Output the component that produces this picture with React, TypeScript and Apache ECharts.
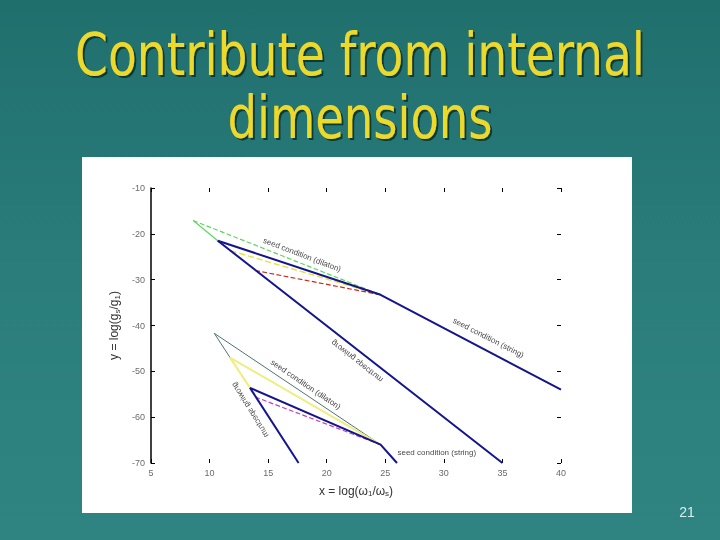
import React, { useEffect, useRef } from "react";
import * as echarts from "echarts";

// ---- data ----
const xMin = 5;
const xMax = 40;
const xStep = 5;
const yMin = -70;
const yMax = -10;
const yStep = 10;

// upper group (dilaton + string, earlier)
const upperGreenSolid = [[8.6, -17.1], [10.7, -21.5]];
const upperGreenDashed = [[8.6, -17.1], [24.6, -33.3]];
const upperBlueString = [[10.7, -21.5], [24.6, -33.3], [40, -54.0]];
const upperBlueGrowing = [[10.7, -21.5], [35, -70]];
const upperYellowDashed = [[11.8, -23.7], [24.6, -33.3]];
const upperRedDashed = [[13.9, -28.0], [24.6, -33.3]];

// lower group
const lowerGrayA = [[10.4, -41.7], [24.6, -66.0]];
const lowerGrayB = [[10.4, -41.7], [11.75, -47.0]];
const lowerYellowA = [[11.75, -47.0], [24.6, -66.0]];
const lowerYellowB = [[11.75, -47.0], [13.45, -53.6]];
const lowerBlueString = [[13.45, -53.6], [24.6, -66.0], [26, -70]];
const lowerBlueGrowing = [[13.45, -53.6], [17.6, -70]];
const lowerMagentaDashed = [[13.9, -55.6], [24.6, -66.0]];

const curveLabels = [
  { text: "seed condition (dilaton)", x: 17.9, y: -24.6, angle: 21, flip: false },
  { text: "seed condition (string)", x: 33.8, y: -42.7, angle: 27, flip: false },
  { text: "growing spectrum", x: 22.6, y: -47.8, angle: 38, flip: true },
  { text: "seed condition (dilaton)", x: 18.2, y: -52.9, angle: 34, flip: false },
  { text: "growing spectrum", x: 13.45, y: -58.4, angle: 58, flip: true },
  { text: "seed condition (string)", x: 29.4, y: -67.7, angle: 0, flip: false },
];

const titleLines = ["Contribute from internal", "dimensions"];
const pageNumber = "21";

const BLUE = "#14148c";

function lineSeries(name: string, data: number[][], color: string, width: number, type: string = "solid") {
  return {
    name,
    type: "line",
    data,
    showSymbol: false,
    symbol: "none",
    silent: true,
    lineStyle: { color, width, type },
    z: 3,
  };
}

function measure(text: string, font: string) {
  const c = document.createElement("canvas").getContext("2d");
  if (!c) return 1;
  c.font = font;
  return c.measureText(text).width;
}

export default function App() {
  const ref = useRef<HTMLDivElement>(null);
  useEffect(() => {
    if (!ref.current) return;
    const chart = echarts.init(ref.current, null, { renderer: "svg" });

    const titleFont = '58px "DejaVu Sans Condensed", "DejaVu Sans", sans-serif';
    const w1 = measure(titleLines[0], titleFont);
    const w2 = measure(titleLines[1], titleFont);
    const s1 = 570 / w1;
    const s2 = 265 / w2;

    const titleStyle = (text: string) => ({
      text,
      fill: "#ecd92a",
      font: titleFont,
      align: "center",
      verticalAlign: "middle",
      textShadowColor: "rgba(0,40,40,0.75)",
      textShadowOffsetX: 2,
      textShadowOffsetY: 2,
      textShadowBlur: 1,
    });

    const baseGraphics: any[] = [
      {
        id: "bg",
        type: "rect",
        z: -20,
        silent: true,
        shape: { x: 0, y: 0, width: 720, height: 540 },
        style: {
          fill: new echarts.graphic.LinearGradient(0, 0, 0, 1, [
            { offset: 0, color: "#1f6f6d" },
            { offset: 0.5, color: "#2a7d7b" },
            { offset: 1, color: "#2f8482" },
          ]),
        },
      },
      {
        id: "panel",
        type: "rect",
        z: -10,
        silent: true,
        shape: { x: 82, y: 157, width: 550, height: 356 },
        style: { fill: "#ffffff" },
      },
      {
        id: "t1",
        type: "text",
        z: 20,
        x: 360,
        y: 55,
        scaleX: s1,
        style: titleStyle(titleLines[0]),
      },
      {
        id: "t2",
        type: "text",
        z: 20,
        x: 360,
        y: 118,
        scaleX: s2,
        style: titleStyle(titleLines[1]),
      },
      {
        id: "pg",
        type: "text",
        z: 20,
        x: 687,
        y: 512,
        style: {
          text: pageNumber,
          fill: "#d6efed",
          font: '14px "Liberation Sans", Arial, sans-serif',
          align: "center",
          verticalAlign: "middle",
        },
      },
    ];

    const tickLabel = { color: "#6a6a6a", fontSize: 9, fontFamily: '"Liberation Sans", Arial, sans-serif' };
    const tickStyle = { show: true, inside: true, length: 4, lineStyle: { color: "#000", width: 1 } };

    const option: any = {
      animation: false,
      backgroundColor: "transparent",
      grid: { left: 151, right: 159, top: 188, bottom: 77, containLabel: false },
      xAxis: [
        {
          type: "value",
          min: xMin,
          max: xMax,
          interval: xStep,
          position: "bottom",
          axisLine: { show: false },
          axisTick: tickStyle,
          axisLabel: { ...tickLabel, margin: 5 },
          splitLine: { show: false },
          name: "x = log(ω{sub|1}/ω{sub|s})",
          nameLocation: "middle",
          nameGap: 20,
          nameTextStyle: {
            color: "#333",
            fontSize: 12,
            fontFamily: '"Liberation Sans", Arial, sans-serif',
            verticalAlign: "top",
            lineHeight: 14,
            rich: { sub: { fontSize: 8, verticalAlign: "bottom", lineHeight: 8, padding: [8, 0, 0, 0] } },
          },
        },
        {
          type: "value",
          min: xMin,
          max: xMax,
          interval: xStep,
          position: "top",
          axisLine: { show: false },
          axisTick: tickStyle,
          axisLabel: { show: false },
          splitLine: { show: false },
        },
      ],
      yAxis: [
        {
          type: "value",
          min: yMin,
          max: yMax,
          interval: yStep,
          position: "left",
          axisLine: { show: true, lineStyle: { color: "#000", width: 1.5 } },
          axisTick: tickStyle,
          axisLabel: { ...tickLabel, margin: 6 },
          splitLine: { show: false },
          name: "y = log(g{sub|s}/g{sub|1})",
          nameLocation: "middle",
          nameGap: 28,
          nameRotate: 90,
          nameTextStyle: {
            color: "#333",
            fontSize: 12,
            fontFamily: '"Liberation Sans", Arial, sans-serif',
            lineHeight: 14,
            rich: { sub: { fontSize: 8, verticalAlign: "bottom", lineHeight: 8, padding: [8, 0, 0, 0] } },
          },
        },
        {
          type: "value",
          min: yMin,
          max: yMax,
          interval: yStep,
          position: "right",
          axisLine: { show: false },
          axisTick: tickStyle,
          axisLabel: { show: false },
          splitLine: { show: false },
        },
      ],
      series: [
        lineSeries("upperGreenSolid", upperGreenSolid, "#5cd85c", 1.2),
        lineSeries("upperGreenDashed", upperGreenDashed, "#5cd85c", 1.2, "dashed"),
        lineSeries("upperYellowDashed", upperYellowDashed, "#e6e24a", 1.5, "dashed"),
        lineSeries("upperRedDashed", upperRedDashed, "#cc2a1e", 1.2, "dashed"),
        lineSeries("upperBlueString", upperBlueString, BLUE, 2),
        lineSeries("upperBlueGrowing", upperBlueGrowing, BLUE, 2),
        lineSeries("lowerGrayA", lowerGrayA, "#4f7373", 1),
        lineSeries("lowerGrayB", lowerGrayB, "#4f7373", 1),
        lineSeries("lowerYellowA", lowerYellowA, "#eeee80", 2),
        lineSeries("lowerYellowB", lowerYellowB, "#eeee80", 2),
        lineSeries("lowerMagentaDashed", lowerMagentaDashed, "#c43cc8", 1.2, "dashed"),
        lineSeries("lowerBlueString", lowerBlueString, BLUE, 2),
        lineSeries("lowerBlueGrowing", lowerBlueGrowing, BLUE, 2),
      ],
      graphic: baseGraphics,
    };

    chart.setOption(option);

    const labelGraphics = curveLabels.map((l, i) => {
      const p = chart.convertToPixel({ gridIndex: 0 }, [l.x, l.y]) as number[];
      return {
        id: "lbl" + i,
        type: "text",
        z: 30,
        x: p[0],
        y: p[1],
        rotation: (-l.angle * Math.PI) / 180,
        scaleY: l.flip ? -1 : 1,
        silent: true,
        style: {
          text: l.text,
          fill: "#4a4a4a",
          font: '8px "Liberation Sans", Arial, sans-serif',
          align: "center",
          verticalAlign: "middle",
        },
      };
    });

    chart.setOption({ graphic: [...baseGraphics, ...labelGraphics] });

    return () => chart.dispose();
  }, []);

  return (
    <div
      ref={ref}
      style={{ position: "fixed", left: 0, top: 0, width: 720, height: 540 }}
    />
  );
}
